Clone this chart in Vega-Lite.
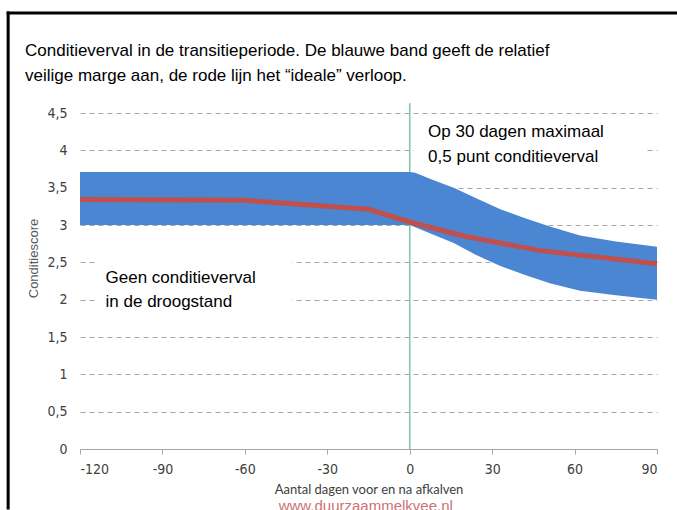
{
  "$schema": "https://vega.github.io/schema/vega-lite/v6.json",
  "width": 577,
  "height": 336,
  "autosize": {"type": "none"},
  "padding": {"left": 80, "top": 113, "right": 20, "bottom": 61},
  "background": "white",
  "title": {
    "text": ["Conditieverval in de transitieperiode. De blauwe band geeft de relatief", "veilige marge aan, de rode lijn het \u201cideale\u201d verloop."],
    "anchor": "start",
    "frame": "group",
    "dx": -55,
    "offset": 0,
    "dy": 73.5,
    "font": "Liberation Sans",
    "fontSize": 17,
    "fontWeight": "normal",
    "lineHeight": 25,
    "color": "#000000"
  },
  "config": {"view": {"stroke": null}, "font": "Liberation Sans"},
  "encoding": {
    "x": {
      "field": "day", "type": "quantitative",
      "scale": {"domain": [-120, 90], "nice": false, "zero": false},
      "axis": {
        "title": "Aantal dagen voor en na afkalven",
        "values": [-120, -90, -60, -30, 0, 30, 60, 90],
        "labelExpr": "datum.value + ''",
        "grid": false,
        "domain": true, "domainColor": "#A6A6A6",
        "ticks": true, "tickColor": "#A6A6A6", "tickSize": 5,
        "labelFont": "Liberation Sans Narrow, DejaVu Sans Condensed, Liberation Sans", "labelFontSize": 14, "labelColor": "#404040",
        "labelPadding": 8,
        "titleFont": "Lato", "titleFontSize": 13, "titleFontWeight": "normal", "titleColor": "#404040",
        "titlePadding": 7
      }
    },
    "y": {
      "field": "v", "type": "quantitative",
      "scale": {"domain": [0, 4.5], "nice": false, "zero": true},
      "axis": {
        "title": "Conditiescore",
        "values": [0, 0.5, 1, 1.5, 2, 2.5, 3, 3.5, 4, 4.5],
        "labelExpr": "replace(datum.value + '', '.', ',')",
        "domain": false, "ticks": false,
        "grid": true, "gridColor": "#A6A6A6", "gridDash": [5, 4], "gridWidth": 1,
        "labelFont": "Liberation Sans Narrow, DejaVu Sans Condensed, Liberation Sans", "labelFontSize": 14, "labelColor": "#404040",
        "labelPadding": 13,
        "titleFont": "Liberation Sans", "titleFontSize": 13, "titleFontWeight": "normal", "titleColor": "#595959",
        "titleX": -47, "titleY": 145, "titleBaseline": "middle"
      }
    }
  },
  "layer": [
    {
      "data": {"values": [{"day": 0, "v": 0, "v2": 4.63}]},
      "mark": {"type": "rule", "color": "#7DC3A4", "strokeWidth": 1.5},
      "encoding": {"y2": {"field": "v2"}}
    },
    {
      "data": {"values": [
        {"day": 1.5, "day2": 85.5, "v": 3.74, "v2": 4.42},
        {"day": -113.5, "day2": -42.8, "v": 1.83, "v2": 2.6}
      ]},
      "mark": {"type": "rect", "fill": "white"},
      "encoding": {"x2": {"field": "day2"}, "y2": {"field": "v2"}}
    },
    {
      "data": {"values": [
        {"day": -120, "v2": 3.0, "v": 3.71},
        {"day": -60, "v2": 3.0, "v": 3.71},
        {"day": 0, "v2": 3.0, "v": 3.71},
        {"day": 2, "v2": 2.97, "v": 3.7},
        {"day": 8, "v2": 2.88, "v": 3.61},
        {"day": 16, "v2": 2.76, "v": 3.5},
        {"day": 24, "v2": 2.6, "v": 3.36},
        {"day": 33, "v2": 2.45, "v": 3.21},
        {"day": 42, "v2": 2.33, "v": 3.09},
        {"day": 51, "v2": 2.22, "v": 2.98},
        {"day": 62, "v2": 2.12, "v": 2.86},
        {"day": 75, "v2": 2.06, "v": 2.78},
        {"day": 90, "v2": 2.0, "v": 2.71}
      ]},
      "mark": {"type": "area", "color": "#4A86D1"},
      "encoding": {"y2": {"field": "v2"}}
    },
    {
      "data": {"values": [
        {"day": -120, "v": 3.34},
        {"day": -60, "v": 3.33},
        {"day": -15, "v": 3.21},
        {"day": 0, "v": 3.04},
        {"day": 20, "v": 2.85},
        {"day": 47, "v": 2.66},
        {"day": 90, "v": 2.48}
      ]},
      "mark": {"type": "line", "color": "#C0504D", "strokeWidth": 5, "strokeCap": "butt"}
    },
    {
      "data": {"values": [
        {"day": 6.7, "v": 4.245, "label": "Op 30 dagen maximaal"},
        {"day": 6.7, "v": 3.91, "label": "0,5 punt conditieverval"},
        {"day": -110.7, "v": 2.29, "label": "Geen conditieverval"},
        {"day": -110.7, "v": 1.97, "label": "in de droogstand"}
      ]},
      "mark": {"type": "text", "align": "left", "baseline": "middle", "fontSize": 17, "font": "Liberation Sans", "color": "#000000"},
      "encoding": {"text": {"field": "label"}}
    },
    {
      "data": {"values": [{"day": -16, "v": -0.77, "label": "www.duurzaammelkvee.nl"}]},
      "mark": {"type": "text", "align": "center", "baseline": "middle", "fontSize": 15, "font": "Liberation Sans", "color": "#C0504D", "opacity": 0.8},
      "encoding": {"text": {"field": "label"}}
    },
    {
      "data": {"values": [
        {"day": -146.7, "day2": -145.6, "v": -0.81, "v2": 5.86},
        {"day": -146.7, "day2": 97.3, "v": 5.82, "v2": 5.86}
      ]},
      "mark": {"type": "rect", "fill": "#000000"},
      "encoding": {"x2": {"field": "day2"}, "y2": {"field": "v2"}}
    }
  ]
}
